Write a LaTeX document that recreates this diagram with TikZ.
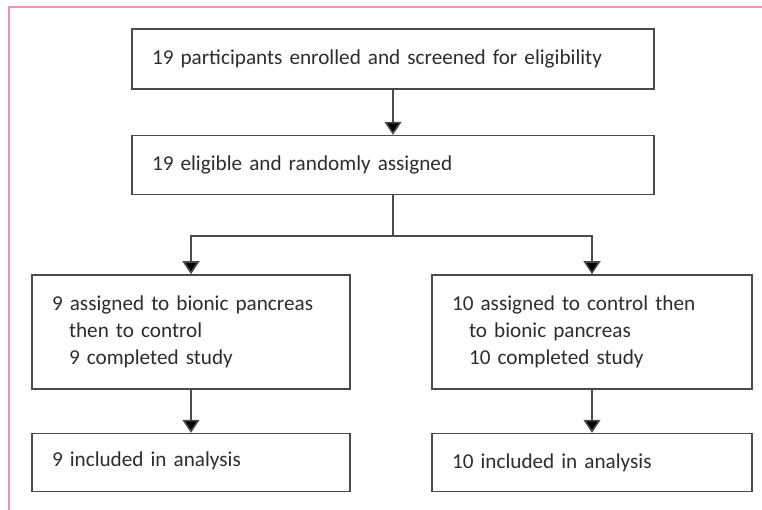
\documentclass[tikz,border=0pt]{standalone}
\usepackage{fontspec}
\setmainfont{Carlito}
\usetikzlibrary{positioning,arrows.meta}
\definecolor{framepink}{RGB}{236,150,176}
\definecolor{boxgray}{RGB}{75,75,75}
\definecolor{textgray}{RGB}{45,45,45}
\newcommand{\FlowGap}{43pt}
\newcommand{\FlowIndent}{\hspace*{17pt}}
\newcommand{\FlowFont}{\fontsize{21.2}{27}\selectfont}
\tikzset{
	flowbox/.style={draw=boxgray, line width=1.6pt, rectangle, align=left, inner xsep=20pt, inner ysep=0pt,
		text=textgray, font=\FlowFont},
	flowarrow/.style={draw=boxgray, line width=1.6pt, -{Triangle[width=17pt,length=13pt,fill=black]}},
}

\begin{document}
\begin{tikzpicture}[x=1pt, y=-1pt]
		\useasboundingbox (0,0) rectangle (762,510);
		\draw [framepink, line width=1.8pt] (9,510) -- (9,7) -- (762,7);
		% screening and randomisation
		\node [flowbox, text width=482pt, minimum height=60pt] (enrol) at (393,59) {19 participants enrolled and screened for eligibility};
		\node [flowbox, text width=482pt, minimum height=59pt, below=45pt of enrol] (assign) {19 eligible and randomly assigned};
		% the two arms
		\node [flowbox, text width=278pt, minimum height=114pt] (armA) at (191,332) {9 assigned to bionic pancreas\\\FlowIndent then to control\\\FlowIndent 9 completed study};
		\node [flowbox, text width=280pt, minimum height=114pt] (armB) at (592,332) {10 assigned to control then\\\FlowIndent to bionic pancreas\\\FlowIndent 10 completed study};
		\node [flowbox, text width=278pt, minimum height=58pt, below=\FlowGap of armA] (anaA) {\raisebox{7pt}{9 included in analysis}};
		\node [flowbox, text width=280pt, minimum height=58pt, below=\FlowGap of armB] (anaB) {\raisebox{2pt}{10 included in analysis}};
		\coordinate (split) at (assign.south |- 0,236);
		\draw [flowarrow] (enrol) -- (assign);
		\draw [boxgray, line width=1.6pt] (assign.south) -- (split);
		\draw [flowarrow] (split) -| (armA.north);
		\draw [flowarrow] (split) -| (armB.north);
		\draw [flowarrow] (armA) -- (anaA);
		\draw [flowarrow] (armB) -- (anaB);
	\end{tikzpicture}
\end{document}
